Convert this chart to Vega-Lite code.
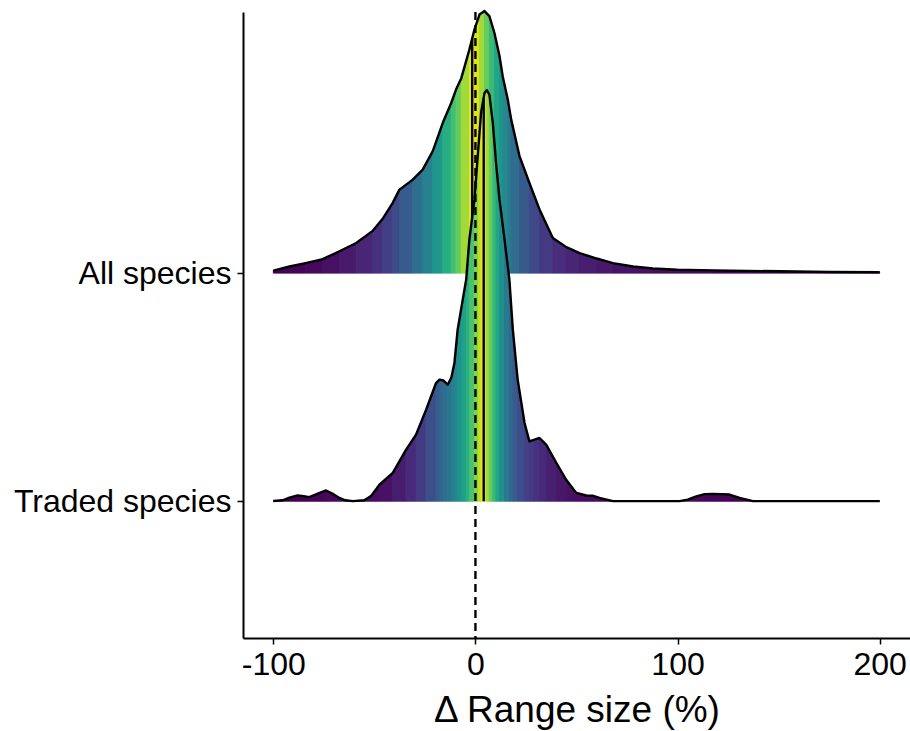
{
  "$schema": "https://vega.github.io/schema/vega-lite/v6.json",
  "width": 667,
  "height": 626,
  "autosize": {"type": "none"},
  "padding": {"left": 243, "top": 12, "right": 0, "bottom": 93},
  "background": "white",
  "config": {
    "view": {"stroke": null},
    "axis": {
      "grid": false,
      "domainColor": "black",
      "domainWidth": 2,
      "tickColor": "black",
      "tickWidth": 1.5,
      "tickSize": 6,
      "labelColor": "black",
      "labelFont": "Liberation Sans",
      "labelFontSize": 32,
      "labelLimit": 500,
      "titleFont": "Liberation Sans",
      "titleFontSize": 37,
      "titleFontWeight": "normal",
      "titleColor": "black"
    }
  },
  "datasets": {
    "dens": [
      {"s":"A","x":-100,"y":2.011,"p":0.0013},
      {"s":"A","x":-92,"y":2.029,"p":0.005},
      {"s":"A","x":-84,"y":2.044,"p":0.011},
      {"s":"A","x":-75.6,"y":2.061,"p":0.020},
      {"s":"A","x":-67.3,"y":2.096,"p":0.033},
      {"s":"A","x":-59,"y":2.132,"p":0.051},
      {"s":"A","x":-51,"y":2.184,"p":0.070},
      {"s":"A","x":-46,"y":2.237,"p":0.090},
      {"s":"A","x":-41,"y":2.307,"p":0.111},
      {"s":"A","x":-37.6,"y":2.366,"p":0.141},
      {"s":"A","x":-31,"y":2.410,"p":0.180},
      {"s":"A","x":-26.1,"y":2.454,"p":0.217},
      {"s":"A","x":-21.1,"y":2.535,"p":0.262},
      {"s":"A","x":-16.2,"y":2.658,"p":0.310},
      {"s":"A","x":-12,"y":2.746,"p":0.349},
      {"s":"A","x":-9.6,"y":2.805,"p":0.382},
      {"s":"A","x":-7,"y":2.855,"p":0.430},
      {"s":"A","x":-3,"y":2.980,"p":0.480},
      {"s":"A","x":-1,"y":3.050,"p":0.499},
      {"s":"A","x":-0.5,"y":3.068,"p":0.475},
      {"s":"A","x":2,"y":3.134,"p":0.429},
      {"s":"A","x":4.5,"y":3.149,"p":0.383},
      {"s":"A","x":6.9,"y":3.127,"p":0.339},
      {"s":"A","x":9.4,"y":3.053,"p":0.296},
      {"s":"A","x":11.9,"y":2.952,"p":0.263},
      {"s":"A","x":13.5,"y":2.862,"p":0.235},
      {"s":"A","x":16,"y":2.761,"p":0.208},
      {"s":"A","x":17.7,"y":2.673,"p":0.178},
      {"s":"A","x":21.8,"y":2.513,"p":0.140},
      {"s":"A","x":26.7,"y":2.395,"p":0.108},
      {"s":"A","x":31.7,"y":2.279,"p":0.082},
      {"s":"A","x":38.3,"y":2.154,"p":0.063},
      {"s":"A","x":45,"y":2.114,"p":0.050},
      {"s":"A","x":51.5,"y":2.088,"p":0.040},
      {"s":"A","x":60,"y":2.064,"p":0.031},
      {"s":"A","x":68,"y":2.044,"p":0.024},
      {"s":"A","x":78,"y":2.029,"p":0.019},
      {"s":"A","x":87.8,"y":2.020,"p":0.016},
      {"s":"A","x":100,"y":2.015,"p":0.012},
      {"s":"A","x":117.5,"y":2.012,"p":0.007},
      {"s":"A","x":150.5,"y":2.008,"p":0.003},
      {"s":"A","x":175,"y":2.005,"p":0.001},
      {"s":"A","x":200,"y":2.004,"p":0},
      {"s":"T","x":-100,"y":1.001,"p":0.0001},
      {"s":"T","x":-95.4,"y":1.004,"p":0.0005},
      {"s":"T","x":-92,"y":1.015,"p":0.0014},
      {"s":"T","x":-88,"y":1.025,"p":0.0027},
      {"s":"T","x":-85,"y":1.022,"p":0.0038},
      {"s":"T","x":-82.2,"y":1.018,"p":0.0052},
      {"s":"T","x":-78,"y":1.033,"p":0.0075},
      {"s":"T","x":-73.9,"y":1.047,"p":0.010},
      {"s":"T","x":-70.8,"y":1.033,"p":0.0118},
      {"s":"T","x":-67.3,"y":1.014,"p":0.0127},
      {"s":"T","x":-64.4,"y":1.004,"p":0.0130},
      {"s":"T","x":-60.7,"y":1.000,"p":0.0131},
      {"s":"T","x":-55,"y":1.004,"p":0.0136},
      {"s":"T","x":-51.5,"y":1.024,"p":0.0157},
      {"s":"T","x":-47.5,"y":1.072,"p":0.0229},
      {"s":"T","x":-40.9,"y":1.124,"p":0.0382},
      {"s":"T","x":-34.3,"y":1.226,"p":0.0589},
      {"s":"T","x":-29.4,"y":1.292,"p":0.0845},
      {"s":"T","x":-24.4,"y":1.401,"p":0.1185},
      {"s":"T","x":-19.5,"y":1.518,"p":0.1453},
      {"s":"T","x":-17.8,"y":1.533,"p":0.162},
      {"s":"T","x":-15.8,"y":1.529,"p":0.180},
      {"s":"T","x":-13.7,"y":1.511,"p":0.198},
      {"s":"T","x":-11.9,"y":1.542,"p":0.213},
      {"s":"T","x":-10.4,"y":1.606,"p":0.230},
      {"s":"T","x":-8.8,"y":1.752,"p":0.253},
      {"s":"T","x":-6.7,"y":1.862,"p":0.284},
      {"s":"T","x":-4.6,"y":1.971,"p":0.315},
      {"s":"T","x":-3,"y":2.147,"p":0.356},
      {"s":"T","x":-0.5,"y":2.322,"p":0.407},
      {"s":"T","x":1.5,"y":2.556,"p":0.449},
      {"s":"T","x":2.8,"y":2.704,"p":0.484},
      {"s":"T","x":3.9,"y":2.759,"p":0.491},
      {"s":"T","x":4.5,"y":2.790,"p":0.465},
      {"s":"T","x":5.6,"y":2.802,"p":0.428},
      {"s":"T","x":6.9,"y":2.783,"p":0.383},
      {"s":"T","x":8.6,"y":2.659,"p":0.337},
      {"s":"T","x":10.2,"y":2.483,"p":0.295},
      {"s":"T","x":11.9,"y":2.322,"p":0.249},
      {"s":"T","x":14.4,"y":2.147,"p":0.201},
      {"s":"T","x":16.8,"y":1.971,"p":0.166},
      {"s":"T","x":18.5,"y":1.752,"p":0.141},
      {"s":"T","x":20.9,"y":1.533,"p":0.115},
      {"s":"T","x":24.3,"y":1.343,"p":0.096},
      {"s":"T","x":26.7,"y":1.262,"p":0.084},
      {"s":"T","x":29.2,"y":1.270,"p":0.073},
      {"s":"T","x":31.7,"y":1.277,"p":0.060},
      {"s":"T","x":35,"y":1.248,"p":0.043},
      {"s":"T","x":40,"y":1.168,"p":0.029},
      {"s":"T","x":44.9,"y":1.094,"p":0.021},
      {"s":"T","x":49.9,"y":1.036,"p":0.017},
      {"s":"T","x":54.8,"y":1.025,"p":0.015},
      {"s":"T","x":57.9,"y":1.024,"p":0.0135},
      {"s":"T","x":61.4,"y":1.014,"p":0.0125},
      {"s":"T","x":68,"y":1.000,"p":0.0121},
      {"s":"T","x":86,"y":1.000,"p":0.0121},
      {"s":"T","x":101,"y":1.000,"p":0.012},
      {"s":"T","x":105,"y":1.007,"p":0.0114},
      {"s":"T","x":109.3,"y":1.021,"p":0.010},
      {"s":"T","x":113.4,"y":1.031,"p":0.0079},
      {"s":"T","x":117.5,"y":1.032,"p":0.0057},
      {"s":"T","x":121.8,"y":1.031,"p":0.0036},
      {"s":"T","x":125.7,"y":1.029,"p":0.0017},
      {"s":"T","x":130.7,"y":1.014,"p":0.0004},
      {"s":"T","x":137.3,"y":1.000,"p":0},
      {"s":"T","x":160.4,"y":1.000,"p":0},
      {"s":"T","x":200,"y":1.000,"p":0}
    ],
    "med": [
      {"s":"A","med":-1.6,"base":2,"top":3.029},
      {"s":"T","med":4.1,"base":1,"top":2.768}
    ],
    "zero": [
      {"ref": 0}
    ]
  },
  "layer": [
    {
      "data": {"name": "dens"},
      "transform": [
        {"filter": "datum.s === 'A'"},
        {"window": [{"op": "lead", "field": "x", "as": "xn"}, {"op": "lead", "field": "y", "as": "yn"}], "sort": [{"field": "x", "order": "ascending"}]},
        {"filter": "datum.xn != null"},
        {"fold": ["x", "xn"], "as": ["kx", "vx"]},
        {"fold": ["y", "yn"], "as": ["ky", "vy"]},
        {"filter": "(datum.kx === 'x') === (datum.ky === 'y')"}
      ],
      "mark": {"type": "area", "strokeWidth": 1},
      "encoding": {
        "x": {"field": "vx", "type": "quantitative", "title": "Δ Range size (%)",
          "scale": {"domain": [-115, 215], "nice": false, "zero": false},
          "axis": {"values": [-100, 0, 100, 200], "labelExpr": "datum.value + ''", "labelPadding": 5, "titlePadding": 12}},
        "y": {"field": "vy", "type": "quantitative", "title": null,
          "scale": {"domain": [0.4, 3.145], "nice": false, "zero": false},
          "axis": {"values": [1, 2], "labelExpr": "datum.value == 2 ? 'All species' : 'Traded species'", "labelPadding": 6}},
        "y2": {"datum": 2},
        "fill": {"field": "p", "type": "quantitative", "scale": {"scheme": "viridis", "domain": [0, 0.5]}, "legend": null},
        "stroke": {"field": "p", "type": "quantitative", "scale": {"scheme": "viridis", "domain": [0, 0.5]}, "legend": null},
        "detail": {"field": "x", "type": "quantitative"}
      }
    },
    {
      "data": {"name": "dens"},
      "transform": [{"filter": "datum.s === 'A'"}],
      "mark": {"type": "line", "color": "black", "strokeWidth": 2.4, "strokeJoin": "round"},
      "encoding": {
        "x": {"field": "x", "type": "quantitative", "title": "Δ Range size (%)"},
        "y": {"field": "y", "type": "quantitative", "title": null}
      }
    },
    {
      "data": {"name": "med"},
      "transform": [{"filter": "datum.s === 'A'"}],
      "mark": {"type": "rule", "color": "black", "strokeWidth": 2.4},
      "encoding": {
        "x": {"field": "med", "type": "quantitative", "title": "Δ Range size (%)"},
        "y": {"field": "top", "type": "quantitative", "title": null},
        "y2": {"field": "base"}
      }
    },
    {
      "data": {"name": "dens"},
      "transform": [
        {"filter": "datum.s === 'T'"},
        {"window": [{"op": "lead", "field": "x", "as": "xn"}, {"op": "lead", "field": "y", "as": "yn"}], "sort": [{"field": "x", "order": "ascending"}]},
        {"filter": "datum.xn != null"},
        {"fold": ["x", "xn"], "as": ["kx", "vx"]},
        {"fold": ["y", "yn"], "as": ["ky", "vy"]},
        {"filter": "(datum.kx === 'x') === (datum.ky === 'y')"}
      ],
      "mark": {"type": "area", "strokeWidth": 1},
      "encoding": {
        "x": {"field": "vx", "type": "quantitative", "title": "Δ Range size (%)"},
        "y": {"field": "vy", "type": "quantitative", "title": null},
        "y2": {"datum": 1},
        "fill": {"field": "p", "type": "quantitative", "scale": {"scheme": "viridis", "domain": [0, 0.5]}, "legend": null},
        "stroke": {"field": "p", "type": "quantitative", "scale": {"scheme": "viridis", "domain": [0, 0.5]}, "legend": null},
        "detail": {"field": "x", "type": "quantitative"}
      }
    },
    {
      "data": {"name": "dens"},
      "transform": [{"filter": "datum.s === 'T'"}],
      "mark": {"type": "line", "color": "black", "strokeWidth": 2.4, "strokeJoin": "round"},
      "encoding": {
        "x": {"field": "x", "type": "quantitative", "title": "Δ Range size (%)"},
        "y": {"field": "y", "type": "quantitative", "title": null}
      }
    },
    {
      "data": {"name": "med"},
      "transform": [{"filter": "datum.s === 'T'"}],
      "mark": {"type": "rule", "color": "black", "strokeWidth": 2.4},
      "encoding": {
        "x": {"field": "med", "type": "quantitative", "title": "Δ Range size (%)"},
        "y": {"field": "top", "type": "quantitative", "title": null},
        "y2": {"field": "base"}
      }
    },
    {
      "data": {"name": "zero"},
      "mark": {"type": "rule", "color": "black", "strokeWidth": 2.4, "strokeDash": [8, 5]},
      "encoding": {"x": {"field": "ref", "type": "quantitative", "title": "Δ Range size (%)"}}
    }
  ]
}
